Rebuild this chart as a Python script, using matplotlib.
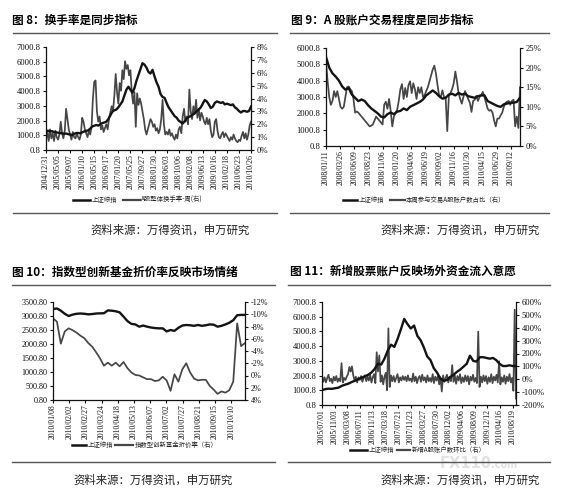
import matplotlib
matplotlib.use('Agg')
import matplotlib.pyplot as plt
import numpy as np
from matplotlib.lines import Line2D

W, H = 578, 497
CJK = ['Noto Sans CJK SC', 'DejaVu Sans']
SERIF = ['Liberation Serif', 'DejaVu Serif']
plt.rcParams['font.family'] = CJK
BLACK = '#141414'
GRAY = '#464646'

# ---------------- Panel 1 data ----------------
P1_TITLE = '图 8：换手率是同步指标'
P1_XLABELS = ['2004/12/31', '2005/05/05', '2005/09/07', '2006/01/10', '2006/05/15', '2006/09/17',
              '2007/01/20', '2007/05/25', '2007/09/27', '2008/01/30', '2008/06/03', '2008/10/06',
              '2009/02/08', '2009/06/13', '2009/10/16', '2010/02/18', '2010/06/23', '2010/10/26']
P1_LTICKS = [0.8, 1000.8, 2000.8, 3000.8, 4000.8, 5000.8, 6000.8, 7000.8]
P1_RTICKS = [0, 1, 2, 3, 4, 5, 6, 7, 8]
P1_RLABELS = ['0%', '1%', '2%', '3%', '4%', '5%', '6%', '7%', '8%']
P1_LEGEND = ['上证综指', 'A股整体换手率-周(右)']
P1_SH = [1300, 1310, 1270, 1280, 1220, 1200, 1180, 1150, 1140, 1100,
         1120, 1080, 1050, 1020, 1100, 1150, 1160, 1130, 1200, 1260,
         1300, 1340, 1450, 1600, 1650, 1700, 1660, 1750, 1830, 1870,
         1920, 2100, 2350, 2600, 2700, 2750, 2900, 3100, 3300, 3700,
         4100, 4300, 4100, 3900, 4200, 4700, 5100, 5500, 5900, 5800,
         5600, 5300, 5200, 5450, 5000, 4600, 4300, 3800, 3600, 3550,
         3200, 2900, 2700, 2500, 2300, 2200, 2000, 1900, 1800, 1950,
         2150, 2250, 2300, 2400, 2500, 2650, 2750, 2900, 3150, 3400,
         3300, 3100, 2850, 2950, 3200, 3300, 3250, 3200, 3250, 3100,
         3150, 3100, 3050, 3100, 2900, 2800, 2650, 2550, 2650, 2650,
         2600, 2650, 2950]
P1_TURN = [0.8, 1.4, 0.7, 1.6, 0.9, 1.3, 0.7, 1.5, 1.0, 0.8, 1.2,
           2.2, 1.3, 0.9, 1.5,
           3.2, 2.4, 1.6,
           1.2, 0.8, 1.4, 1.0, 0.9, 1.3, 1.0, 0.8, 1.2,
           2.5, 2.2, 1.6,
           1.3, 1.0, 1.5, 1.2, 1.8,
           4.0, 5.3, 5.4, 3.0,
           2.2, 2.6, 1.6, 1.9, 1.4, 1.7,
           2.0, 1.6, 2.4, 2.9, 3.4,
           3.0, 4.2, 5.9, 4.5, 3.6,
           5.2, 4.6, 6.2, 5.5, 6.9,
           6.3, 6.6, 5.8, 6.2, 4.5,
           3.6, 4.5, 1.8, 4.4, 3.5,
           4.0, 3.6, 3.0, 2.4, 1.6,
           1.2, 1.6, 2.0, 2.4, 2.2,
           1.8, 2.0, 1.5, 1.7, 1.3,
           1.6, 2.4, 3.9, 2.0, 1.2,
           1.4, 1.2, 1.6, 1.1, 1.3,
           1.0, 0.8, 1.2, 0.9, 1.6,
           1.8, 1.3, 2.6, 3.2, 2.2,
           2.6, 2.0, 4.7, 3.0, 2.4,
           3.4, 2.8, 3.9, 2.5, 3.2,
           2.3, 2.9, 2.6, 2.2, 2.0,
           2.5, 2.0, 2.4, 1.5, 1.0,
           1.2, 2.2, 2.4, 1.5, 1.0,
           0.9, 1.2, 1.4, 1.0, 1.3,
           1.1, 0.9, 0.7, 1.0, 0.8,
           1.2, 0.9, 0.7, 0.6, 0.8,
           0.7, 1.1, 1.4, 0.9, 1.3,
           0.8, 1.2, 1.9, 2.2]

# ---------------- Panel 2 data ----------------
P2_TITLE = '图 9：A 股账户交易程度是同步指标'
P2_XLABELS = ['2008/01/11', '2008/03/26', '2008/06/09', '2008/08/23', '2008/11/06', '2009/01/20',
              '2009/04/06', '2009/06/19', '2009/09/02', '2009/11/16', '2010/01/30', '2010/04/15',
              '2010/06/29', '2010/09/12']
P2_LTICKS = [0.8, 1000.8, 2000.8, 3000.8, 4000.8, 5000.8, 6000.8]
P2_RTICKS = [0, 5, 10, 15, 20, 25]
P2_RLABELS = ['0%', '5%', '10%', '15%', '20%', '25%']
P2_LEGEND = ['上证综指', '本周参与交易A股账户数占比（右）']
P2_SH = [5450, 4800, 4450, 4250, 4000, 3650, 3450, 3550, 3150, 2950,
         2750, 2850, 2750, 2500, 2300, 2150, 2000, 1800, 1750, 1950,
         2050, 1950, 2100, 2150, 2300, 2200, 2400, 2500, 2600, 2700,
         2850, 3100, 3250, 3400, 3250, 3050, 2900, 2950, 3150, 3200,
         3100, 3250, 3150, 3200, 3050, 3000, 2950, 3050, 3100, 3100,
         2750, 2650, 2550, 2450, 2400, 2550, 2600, 2650, 2650, 2700,
         2950]
P2_ACC = [21.5, 16.5, 12.5, 10.5, 11.5, 14.0, 12.5, 14.0, 12.0, 10.0,
          9.5, 10.0, 12.5, 15.0, 15.2, 14.5, 14.0, 12.0, 8.5, 8.8,
          8.5, 8.0, 7.5, 7.0, 6.5, 6.0, 5.5, 5.0, 5.2, 5.5,
          6.5, 7.5, 7.0, 6.5, 6.0, 5.5, 10.5, 11.3, 9.5, 12.0,
          9.0, 5.0, 7.5, 8.5, 9.2, 11.5, 14.5, 15.8, 12.0, 14.8,
          12.5, 15.5, 16.5, 13.5, 16.0, 14.5, 12.0, 15.0, 13.5, 15.0,
          12.5, 13.0, 14.0, 15.0, 16.5, 18.0, 19.5, 20.5, 18.5, 15.5,
          12.8, 12.5, 14.2, 12.5, 12.3, 3.8, 12.8, 13.5, 14.5, 16.0,
          19.0, 16.5, 13.5, 12.0, 10.8, 12.5, 14.0, 13.0, 12.0, 11.0,
          8.7, 11.5, 11.8, 12.8, 11.5, 12.5, 13.0, 13.8, 12.5, 11.0,
          9.5, 9.0, 9.2, 8.5, 6.5, 5.0, 7.0, 7.0, 7.8, 8.5,
          10.0, 11.0, 11.3, 11.5, 10.5, 11.5, 11.8, 5.0, 7.5, 4.6,
          15.0]

# ---------------- Panel 3 data ----------------
P3_TITLE = '图 10：指数型创新基金折价率反映市场情绪'
P3_XLABELS = ['2010/01/08', '2010/02/02', '2010/02/27', '2010/03/24', '2010/04/18', '2010/05/13',
              '2010/06/07', '2010/07/02', '2010/07/27', '2010/08/21', '2010/09/15', '2010/10/10']
P3_LTICKS = [0.80, 500.80, 1000.80, 1500.80, 2000.80, 2500.80, 3000.80, 3500.80]
P3_RTICKS = [-12, -10, -8, -6, -4, -2, 0, 2, 4]
P3_RLABELS = ['-12%', '-10%', '-8%', '-6%', '-4%', '-2%', '0%', '2%', '4%']
P3_LEGEND = ['上证综指', '指数型创新基金折价率（右）']
P3_SH = [3250, 3270, 3190, 3080, 3000, 3050, 3080, 3090, 3080, 3060,
         3070, 3090, 3095, 3100, 3200, 3190, 3170, 3130, 2980, 2820,
         2720, 2700, 2620, 2660, 2620, 2590, 2570, 2560, 2560, 2450,
         2500, 2470, 2580, 2660, 2680, 2670, 2650, 2680, 2650, 2670,
         2700, 2690, 2620, 2650, 2700, 2760, 2850, 3030, 3040, 3040]
P3_DISC = [-9.3, -8.8, -5.2, -7.2, -7.7, -7.4, -7.0, -6.5, -6.1, -5.3,
           -4.7, -3.8, -2.8, -1.6, -2.1, -1.6, -2.1, -1.5, -2.2, -1.2,
           -0.5, -0.1, 0.0, 0.3, 0.6, 0.6, 0.9, 0.8, 0.2, 0.8,
           2.5, -0.2, 1.0, -1.0, -2.0, -0.5, 0.5, 0.8, 0.7, 0.7,
           1.7, 2.3, 3.0, 2.6, 2.8, 2.4, 1.0, -8.5, -4.8, -5.3]

# ---------------- Panel 4 data ----------------
P4_TITLE = '图 11：新增股票账户反映场外资金流入意愿'
P4_XLABELS = ['2005/07/01', '2005/11/03', '2006/03/08', '2006/07/11', '2006/11/13', '2007/03/18',
              '2007/07/21', '2007/11/23', '2008/03/27', '2008/07/30', '2008/12/02', '2009/04/06',
              '2009/08/09', '2009/12/12', '2010/04/16', '2010/08/19']
P4_LTICKS = [0.8, 1000.8, 2000.8, 3000.8, 4000.8, 5000.8, 6000.8, 7000.8]
P4_RTICKS = [-200, -100, 0, 100, 200, 300, 400, 500, 600]
P4_RLABELS = ['-200%', '-100%', '0%', '100%', '200%', '300%', '400%', '500%', '600%']
P4_LEGEND = ['上证综指', '新增A股账户数环比（右）']
P4_SH = [1010, 1080, 1110, 1100, 1140, 1180, 1300, 1380, 1450, 1560,
         1650, 1750, 1850, 1950, 2050, 2200, 2450, 2800, 2750, 3150,
         3700, 4100, 3950, 4500, 5150, 5850, 5500, 5200, 5400, 4700,
         4400, 3900, 3300, 3050, 2500, 2200, 1800, 1650, 1700, 1900,
         2050, 2250, 2400, 2600, 2800, 3350, 3000, 2950, 3250, 3250,
         3200, 3150, 3200, 3050, 2800, 2650, 2650, 2700, 2650, 2650]
P4_NEW = [30, -20, 15, -25, 10, 35, -15, 5, -30, 20,
          -10, 25, -20, 5, -15, 125, -25, 10, -5, 20,
          40, 95, 60, 100, 30, -10, 20, -25, 15, -5,
          25, -20, 10, 30, -15, 20, -10, 35, -25, 15,
          40, -30, 210, 60, 185, -20, 30, -40, 20, 50,
          -85, 395, -60, 30, -15, 25, -20, 10, 40, -25,
          15, -10, 25, -5, 20, -15, 30, -10, 5, -20,
          45, -15, 20, -30, 10, 25, -20, 35, -10, 15,
          -25, 30, -15, 10, -20, 40, -30, 20, -10, 25,
          -40, 15, -95, 30, -20, 10, 35, -25, 20, -15,
          110, -20, 30, -35, 25, -10, 40, -30, 15, -20,
          30, -15, 25, -40, 20, -10, 35, -20, 10, -30,
          370, -60, 20, -25, 30, -15, 25, -35, 15, -20,
          40, -30, 20, -10, 35, -25, 140, -40, 15, -20,
          30, -35, 20, -15, 40, -25, 10, -90, 540, -150]

SOURCE = '资料来源：万得资讯，申万研究'
WATERMARK = ['FX110', '.com']

fig = plt.figure(figsize=(W / 100, H / 100), dpi=100)


def hline(x0, x1, y, lw=1.0, color='#555555'):
    fig.add_artist(Line2D([x0 / W, x1 / W], [1 - y / H, 1 - y / H], color=color, lw=lw,
                          transform=fig.transFigure))


def ftext(x, y, s, **kw):
    fig.text(x / W, 1 - y / H, s, **kw)


def panel(box, xlabels, xmax, sl, sr, lticks, lfmt, rticks, rlabels, rlim, lsize=6.2, xsize=5.6):
    l, t, r, b = box
    ax = fig.add_axes([l / W, 1 - b / H, (r - l) / W, (b - t) / H])
    ax2 = ax.twinx()
    ax2.plot(np.linspace(0, xmax, len(sr)), sr, color=GRAY, lw=1.25)
    ax.plot(np.linspace(0, xmax, len(sl)), sl, color=BLACK, lw=1.7)
    ax.set_zorder(ax2.get_zorder() + 1)
    ax.patch.set_visible(False)
    ax.set_xlim(0, xmax)
    ax.set_ylim(lticks[0], lticks[-1])
    ax2.set_ylim(*rlim)
    ax.set_xticks(range(len(xlabels)))
    ax.set_xticklabels(xlabels, rotation=90, fontsize=xsize, family=SERIF)
    ax.set_yticks(lticks)
    ax.set_yticklabels([lfmt.format(v) for v in lticks], fontsize=lsize, family=SERIF)
    ax2.set_yticks(rticks)
    ax2.set_yticklabels(rlabels, fontsize=lsize, family=SERIF)
    for a in (ax, ax2):
        a.spines['top'].set_visible(False)
        for s in a.spines.values():
            s.set_linewidth(0.9)
            s.set_color('#111111')
        a.tick_params(direction='out', length=2, width=0.8, pad=2, colors='#111111')
    ax.spines['right'].set_visible(False)
    ax2.spines['left'].set_visible(False)
    ax2.spines['bottom'].set_visible(False)
    ax.tick_params(axis='x', pad=1.2)
    return ax, ax2


def legend(y, x_line1, x_text1, x_line2, x_text2, labels):
    fig.add_artist(Line2D([x_line1[0] / W, x_line1[1] / W], [1 - y / H, 1 - y / H],
                          color=BLACK, lw=1.8, transform=fig.transFigure))
    ftext(x_text1, y, labels[0], fontsize=4.6, va='center', ha='left', family=CJK, color='#222222')
    fig.add_artist(Line2D([x_line2[0] / W, x_line2[1] / W], [1 - y / H, 1 - y / H],
                          color=GRAY, lw=1.6, transform=fig.transFigure))
    ftext(x_text2, y, labels[1], fontsize=4.6, va='center', ha='left', family=CJK, color='#222222')


# ---------------- Panel 1 ----------------
ftext(12, 20, P1_TITLE, fontsize=8.4, weight='bold', va='center', ha='left', family=CJK)
hline(13, 277, 33)
panel((46, 47, 251, 150), P1_XLABELS, 17, P1_SH, P1_TURN, P1_LTICKS, '{:.1f}',
      P1_RTICKS, P1_RLABELS, (0, 8))
legend(200, (73, 90), 92, (123, 140), 141, P1_LEGEND)
hline(13, 277, 213)
ftext(170, 230, SOURCE, fontsize=8.2, va='center', ha='center', family=CJK, color='#222222')

# ---------------- Panel 2 ----------------
ftext(291, 20, P2_TITLE, fontsize=8.4, weight='bold', va='center', ha='left', family=CJK)
hline(290, 549, 33)
panel((326, 48, 520, 146), P2_XLABELS, 13.65, P2_SH, P2_ACC, P2_LTICKS, '{:.1f}',
      P2_RTICKS, P2_RLABELS, (0, 25))
legend(200, (343, 357), 359, (390, 405), 406, P2_LEGEND)
hline(290, 549, 213)
ftext(460, 230, SOURCE, fontsize=8.2, va='center', ha='center', family=CJK, color='#222222')

# ---------------- Panel 3 ----------------
ftext(12, 272, P3_TITLE, fontsize=8.4, weight='bold', va='center', ha='left', family=CJK)
hline(12, 275, 285)
panel((53, 302, 245, 400), P3_XLABELS, 11.85, P3_SH, P3_DISC, P3_LTICKS, '{:.2f}',
      P3_RTICKS, P3_RLABELS, (4, -12), lsize=5.9)
legend(445, (72, 86), 88, (115, 133), 135, P3_LEGEND)
hline(12, 275, 462)
ftext(153, 480, SOURCE, fontsize=8.2, va='center', ha='center', family=CJK, color='#222222')

# ---------------- Panel 4 ----------------
ftext(290, 271, P4_TITLE, fontsize=8.4, weight='bold', va='center', ha='left', family=CJK)
hline(288, 550, 285)
panel((322, 302, 516, 405), P4_XLABELS, 15.26, P4_SH, P4_NEW, P4_LTICKS, '{:.1f}',
      P4_RTICKS, P4_RLABELS, (-200, 600))
legend(450, (350, 367), 369, (397, 410), 412, P4_LEGEND)
hline(288, 550, 462)

# faint watermark, kept between the legend and the source line
ftext(440, 463, WATERMARK[0], fontsize=10.5, weight='bold', va='center', ha='left',
      family=['DejaVu Sans'], color='#e2e2e2', zorder=0)
ftext(491, 465, WATERMARK[1], fontsize=7, weight='bold', va='center', ha='left',
      family=['DejaVu Sans'], color='#e2e2e2', zorder=0)

ftext(460, 480, SOURCE, fontsize=8.2, va='center', ha='center', family=CJK, color='#222222',
      zorder=5)

fig.savefig('out.png', dpi=100)
